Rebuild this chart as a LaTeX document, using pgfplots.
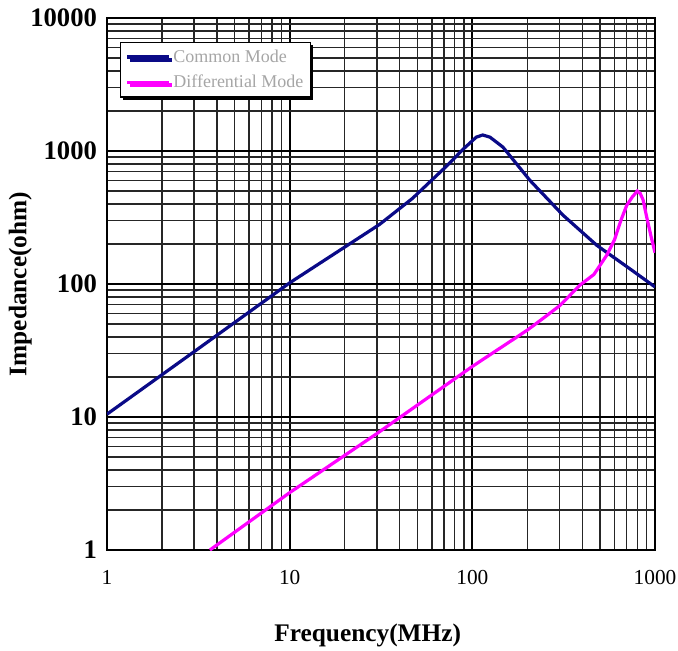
\documentclass[border=0pt]{standalone}
\usepackage{pgfplots}
\pgfplotsset{compat=1.18}
\usepackage{fontspec}
\setmainfont{Liberation Serif}
\usetikzlibrary{shadows}

\definecolor{cmblue}{RGB}{10,10,135}
\definecolor{dmpink}{RGB}{255,0,255}

\begin{document}
\begin{tikzpicture}
% fix page to the reference frame (1px = 0.75pt)
\useasboundingbox (-80.25pt,-75pt) rectangle (428.25pt,412.5pt);
\begin{loglogaxis}[
    scale only axis,
    width=411pt, height=399pt,
    xmin=1, xmax=1000, ymin=1, ymax=10000,
    grid=both,
    major grid style={black, line width=1.4pt},
    minor grid style={black!85, line width=1.05pt},
    axis line style={black, line width=1pt},
    major tick length=0pt, minor tick length=0pt,
    xtick={1,10,100,1000}, xticklabels={1,10,100,1000},
    ytick={1,10,100,1000,10000}, yticklabels={1,10,100,1000,10000},
    xticklabel style={font=\fontsize{16}{18}\selectfont, yshift=-12pt},
    yticklabel style={font=\bfseries\fontsize{20}{22}\selectfont, xshift=-4pt},
    xlabel={Frequency(MHz)}, ylabel={Impedance(ohm)},
    xlabel style={font=\bfseries\fontsize{19}{21}\selectfont, yshift=-22pt, xshift=-10pt},
    ylabel style={font=\bfseries\fontsize{19}{21}\selectfont, yshift=-8pt},
    legend style={at={(0.024,0.955)}, anchor=north west, draw=black, line width=1pt,
        fill=white, font=\fontsize{13.5}{15}\selectfont\color{black!35},
        row sep=4pt, inner sep=3.5pt,
        drop shadow={fill=black, opacity=1, shadow xshift=2pt, shadow yshift=-2pt}},
    legend cell align=left,
    legend image post style={line width=2.6pt},
    legend image code/.code={\draw[#1] (0cm,0cm) -- (1.1cm,0cm);},
]
\addplot[cmblue, line width=2.4pt] coordinates {
  (1,10.5) (3,31) (10,102) (31,280) (47,440) (73,780) (89,1030)
  (105,1270) (114,1320) (125,1270) (147,1070) (207,600) (313,330)
  (481,195) (729,130) (1000,95)
};
\addlegendentry{Common Mode}
\addplot[dmpink, line width=2.4pt] coordinates {
  (3.66,1) (10,2.7) (30,7.5) (100,24) (200,45) (256,58) (302,69)
  (388,98) (463,118) (545,165) (600,215) (650,300) (700,390) (750,450)
  (800,500) (830,480) (860,430) (900,320) (950,230) (1000,172)
};
\addlegendentry{Differential Mode}
\end{loglogaxis}
\end{tikzpicture}
\end{document}
